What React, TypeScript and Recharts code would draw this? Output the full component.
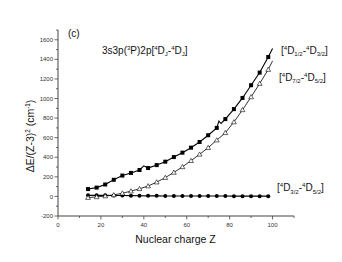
import React from "react";
import { LineChart, Line, XAxis, YAxis } from "recharts";

// ---- data ----
const MARK_Z = [14, 18, 22, 26, 30, 34, 38, 42, 46, 50, 54, 58, 62, 66, 70, 74, 78, 82, 86, 90, 94, 98];

// [4D1/2-4D3/2] (filled squares)
const SQ_MARK_VAL = [75, 90, 122, 170, 213, 240, 270, 290, 320, 355, 402, 447, 498, 556, 625, 700, 790, 892, 1006, 1136, 1265, 1424];
const SQ_LINE_Z = [14, 18, 22, 26, 30, 34, 38, 40, 42, 46, 50, 54, 58, 62, 66, 70, 74, 75, 76, 78, 82, 86, 90, 94, 98, 100];
const SQ_LINE_VAL = [75, 90, 122, 170, 213, 240, 270, 312, 290, 320, 355, 402, 447, 498, 556, 625, 700, 770, 745, 790, 892, 1006, 1136, 1265, 1424, 1510];

// [4D7/2-4D5/2] (open triangles)
const TRI_MARK_VAL = [-12, -5, 4, 15, 33, 54, 78, 106, 146, 192, 245, 302, 365, 430, 498, 575, 650, 760, 884, 1016, 1153, 1296];
const TRI_LINE_Z = [...MARK_Z, 100];
const TRI_LINE_VAL = [...TRI_MARK_VAL, 1384];

// [4D3/2-4D5/2] (filled circles)
const CIR_VAL = [11, 12, 11, 10, 9, 8, 7, 6, 6, 5, 5, 5, 4, 4, 4, 4, 4, 3, 3, 3, 3, 3];

const X_TICKS = [0, 10, 20, 30, 40, 50, 60, 70, 80, 90, 100, 110];
const Y_TICKS = [-200, -100, 0, 100, 200, 300, 400, 500, 600, 700, 800, 900, 1000, 1100, 1200, 1300, 1400, 1500, 1600, 1700];

const sqLine = SQ_LINE_Z.map((z, i) => ({ z, v: SQ_LINE_VAL[i] }));
const sqMarks = MARK_Z.map((z, i) => ({ z, v: SQ_MARK_VAL[i] }));
const triLine = TRI_LINE_Z.map((z, i) => ({ z, v: TRI_LINE_VAL[i] }));
const triMarks = MARK_Z.map((z, i) => ({ z, v: TRI_MARK_VAL[i] }));
const cirData = MARK_Z.map((z, i) => ({ z, v: CIR_VAL[i] }));

const FONT = "'Liberation Sans', Arial, sans-serif";
const AXIS_COLOR = "#444";

type Seg = [string, "n" | "u" | "d"];

function Rich({ x, y, segs, size, anchor = "start", transform }: any) {
  let shift = 0;
  const out: any[] = [];
  segs.forEach((s: Seg, i: number) => {
    const target = s[1] === "u" ? -0.38 * size : s[1] === "d" ? 0.25 * size : 0;
    const dy = target - shift;
    shift = target;
    out.push(
      <tspan key={i} dy={dy} fontSize={s[1] === "n" ? size : size * 0.6}>
        {s[0]}
      </tspan>
    );
  });
  return (
    <text x={x} y={y} fontFamily={FONT} fontSize={size} fill="#111" textAnchor={anchor} transform={transform}>
      {out}
    </text>
  );
}

const Square = (p: any) => {
  if (p.cx == null || p.cy == null) return null;
  return <rect key={p.index} x={p.cx - 2} y={p.cy - 2} width={4} height={4} fill="#000" />;
};
const Tri = (p: any) => {
  if (p.cx == null || p.cy == null) return null;
  const r = 2.4;
  return (
    <path
      key={p.index}
      d={`M${p.cx},${p.cy - r} L${p.cx + r},${p.cy + r * 0.75} L${p.cx - r},${p.cy + r * 0.75} Z`}
      fill="#fff"
      stroke="#000"
      strokeWidth={0.6}
    />
  );
};
const Circ = (p: any) => {
  if (p.cx == null || p.cy == null) return null;
  return <circle key={p.index} cx={p.cx} cy={p.cy} r={2} fill="#000" />;
};

const YTick = (p: any) => {
  const v = p.payload.value;
  const major = v % 200 === 0 && v !== 1700;
  return (
    <g>
      <line x1={p.x - (major ? 3.5 : 2)} x2={p.x} y1={p.y} y2={p.y} stroke={AXIS_COLOR} strokeWidth={0.8} />
      {major && (
        <text x={p.x - 5} y={p.y} dy={2.1} textAnchor="end" fontSize={6} fontFamily={FONT} fill="#333">
          {v}
        </text>
      )}
    </g>
  );
};

const XTick = (p: any) => {
  const v = p.payload.value;
  const major = v % 20 === 0;
  return (
    <g>
      <line x1={p.x} x2={p.x} y1={p.y} y2={p.y + (major ? 3.5 : 2)} stroke={AXIS_COLOR} strokeWidth={0.8} />
      {major && (
        <text x={p.x} y={p.y + 10.5} textAnchor="middle" fontSize={6} fontFamily={FONT} fill="#333">
          {v}
        </text>
      )}
    </g>
  );
};

export default function App() {
  return (
    <div style={{ position: "absolute", left: 0, top: 0, width: 342, height: 262, background: "#fff" }}>
      <LineChart width={342} height={262} margin={{ top: 30, right: 48, left: 0, bottom: 16 }}>
        <XAxis
          type="number"
          dataKey="z"
          domain={[0, 110]}
          ticks={X_TICKS}
          interval={0}
          tickSize={0}
          tickMargin={0}
          height={30}
          stroke={AXIS_COLOR}
          tick={<XTick />}
          allowDuplicatedCategory={false}
        />
        <YAxis
          type="number"
          domain={[-200, 1700]}
          ticks={Y_TICKS}
          interval={0}
          tickSize={0}
          tickMargin={0}
          width={58}
          stroke={AXIS_COLOR}
          tick={<YTick />}
        />
        <Line data={cirData} dataKey="v" stroke="#000" strokeWidth={1.1} dot={<Circ />} isAnimationActive={false} />
        <Line data={triLine} dataKey="v" stroke="#000" strokeWidth={0.8} dot={false} isAnimationActive={false} />
        <Line data={triMarks} dataKey="v" stroke="none" dot={<Tri />} isAnimationActive={false} />
        <Line data={sqLine} dataKey="v" stroke="#000" strokeWidth={1.1} dot={false} isAnimationActive={false} />
        <Line data={sqMarks} dataKey="v" stroke="none" dot={<Square />} isAnimationActive={false} />
      </LineChart>
      <svg width={342} height={262} style={{ position: "absolute", left: 0, top: 0, pointerEvents: "none" }}>
        <Rich x={68} y={36.5} size={10} segs={[["(c)", "n"]]} />
        <Rich
          x={102}
          y={53.5}
          size={10}
          segs={[
            ["3s3p(", "n"],
            ["3", "u"],
            ["P)2p[", "n"],
            ["4", "u"],
            ["D", "n"],
            ["J", "d"],
            ["-", "n"],
            ["4", "u"],
            ["D", "n"],
            ["J", "d"],
            ["]", "n"],
          ]}
        />
        <Rich
          x={281}
          y={53.5}
          size={10}
          segs={[
            ["[", "n"],
            ["4", "u"],
            ["D", "n"],
            ["1/2", "d"],
            ["-", "n"],
            ["4", "u"],
            ["D", "n"],
            ["3/2", "d"],
            ["]", "n"],
          ]}
        />
        <Rich
          x={279}
          y={80.5}
          size={10}
          segs={[
            ["[", "n"],
            ["4", "u"],
            ["D", "n"],
            ["7/2", "d"],
            ["-", "n"],
            ["4", "u"],
            ["D", "n"],
            ["5/2", "d"],
            ["]", "n"],
          ]}
        />
        <Rich
          x={277}
          y={191}
          size={10}
          segs={[
            ["[", "n"],
            ["4", "u"],
            ["D", "n"],
            ["3/2", "d"],
            ["-", "n"],
            ["4", "u"],
            ["D", "n"],
            ["5/2", "d"],
            ["]", "n"],
          ]}
        />
        <Rich x={175.5} y={243} size={10.5} anchor="middle" segs={[["Nuclear charge Z", "n"]]} />
        <Rich
          x={34}
          y={136}
          size={10.5}
          anchor="middle"
          transform="rotate(-90, 34, 136)"
          segs={[
            ["ΔE/(Z-3)", "n"],
            ["2", "u"],
            [" (cm", "n"],
            ["-1", "u"],
            [")", "n"],
          ]}
        />
      </svg>
    </div>
  );
}
